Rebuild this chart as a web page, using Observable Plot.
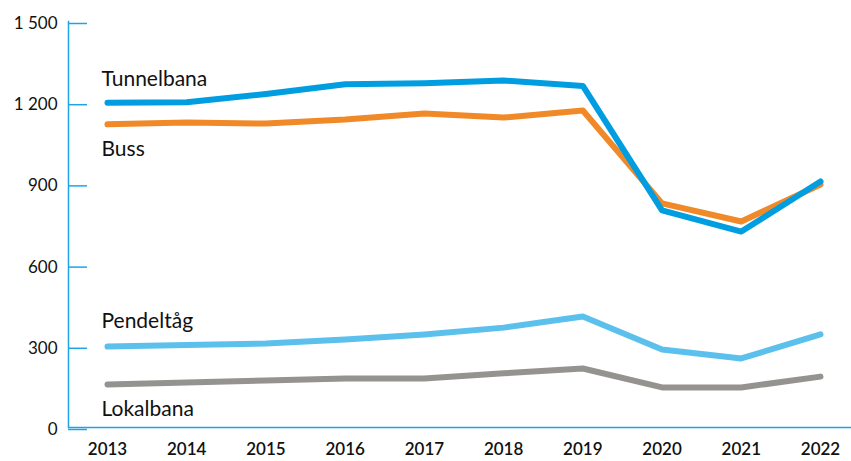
<!DOCTYPE html>
<html><head><meta charset="utf-8">
<script src="https://cdn.jsdelivr.net/npm/d3@7"></script>
<script src="https://cdn.jsdelivr.net/npm/@observablehq/plot@0.6"></script>
<style>body{margin:0;background:#fff}</style>
</head><body><div id="chart"></div>
<script>
const years = [2013, 2014, 2015, 2016, 2017, 2018, 2019, 2020, 2021, 2022];
const seriesNames = ["Tunnelbana", "Buss", "Pendeltåg", "Lokalbana"];
const tunnelbana = [1200, 1202, 1232, 1268, 1272, 1282, 1262, 802, 724, 909];
const buss = [1120, 1127, 1123, 1138, 1160, 1145, 1171, 828, 761, 898];
const pendeltag = [299, 305, 310, 325, 344, 369, 410, 288, 255, 344];
const lokalbana = [159, 166, 174, 181, 181, 200, 218, 148, 148, 188];
const yTicks = [0, 300, 600, 900, 1200, 1500];

const colors = ["#009ee0", "#f08a28", "#5bc1ec", "#959390"];
const axisBlue = "#1ea4e4";
const seriesValues = [tunnelbana, buss, pendeltag, lokalbana];
const labelDy = [-23, 25, -25, 25];

const rows = seriesNames.flatMap((s, k) => years.map((yr, i) => ({series: s, year: yr, value: seriesValues[k][i]})));
const drawOrder = ["Lokalbana", "Pendeltåg", "Buss", "Tunnelbana"];
const lineRows = drawOrder.flatMap(s => rows.filter(d => d.series === s));

const fmt = d3.formatLocale({decimal: ",", thousands: " ", grouping: [3], currency: ["", ""]}).format(",d");

const plot = Plot.plot({
  width: 851,
  height: 461,
  marginLeft: 68,
  marginRight: 0,
  marginTop: 21,
  marginBottom: 34,
  insetLeft: 39,
  insetRight: 31,
  style: {fontFamily: "Lato, sans-serif", fontSize: "17px", color: "#111"},
  x: {domain: [years[0], years[years.length - 1]], label: null},
  y: {domain: [0, 1500], label: null},
  color: {domain: seriesNames, range: colors},
  marks: [
    Plot.ruleY([0], {stroke: axisBlue, strokeWidth: 1.5}),
    Plot.frame({anchor: "left", stroke: axisBlue, strokeWidth: 1.5}),
    Plot.axisY(yTicks, {tickSize: -19, tickPadding: 30, stroke: axisBlue, strokeWidth: 1.5, tickFormat: fmt, fill: "#111", fontSize: 17, dy: 2, label: null}),
    Plot.axisX(years, {tickSize: 0, tickPadding: 15, tickFormat: d => String(d), fontSize: 17, fontWeight: 600, fill: "#111", label: null}),
    Plot.line(lineRows, {x: "year", y: "value", z: "series", stroke: "series", strokeWidth: 6, strokeLinecap: "round"}),
    ...seriesNames.map((s, k) => Plot.text(rows.filter(d => d.series === s && d.year === years[0]), {
      x: "year", y: "value", text: "series", textAnchor: "start", dx: -6, dy: labelDy[k], fontSize: 21, fill: "#111"
    }))
  ]
});
document.getElementById("chart").append(plot);
</script>
</body></html>
